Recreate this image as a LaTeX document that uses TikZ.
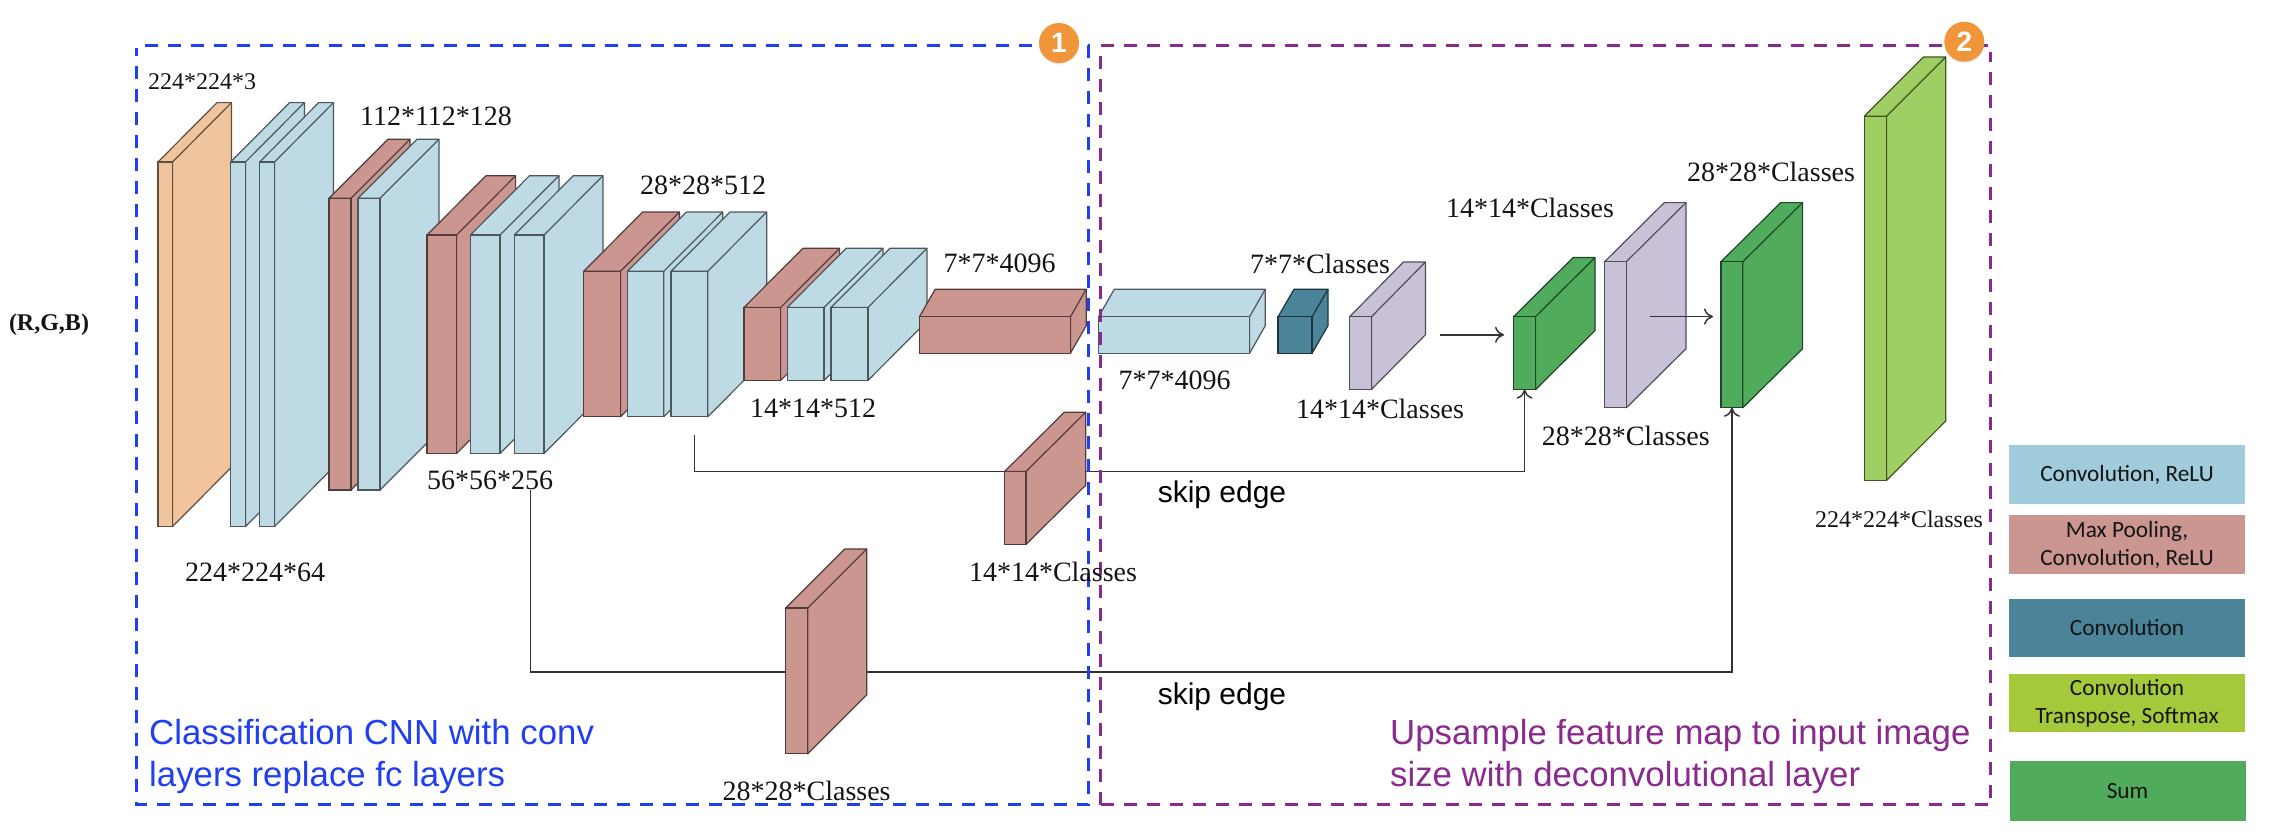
\documentclass[tikz,border=0pt]{standalone}
\usepackage{fontspec}
\setmainfont{Liberation Serif}
\newfontfamily\capfont{Liberation Sans}
\newfontfamily\legfont{Carlito}
\usetikzlibrary{arrows.meta,shadows}
\definecolor{cblue}{HTML}{BEDAE5}
\definecolor{cred}{HTML}{CC9690}
\definecolor{corange}{HTML}{F0C49C}
\definecolor{cteal}{HTML}{4B8399}
\definecolor{clilac}{HTML}{C9C1D8}
\definecolor{cgreen}{HTML}{50AC5C}
\definecolor{clime}{HTML}{9FCF62}
\definecolor{lblue}{HTML}{9FCBDB}
\definecolor{llime}{HTML}{A4C93A}
\definecolor{dashblue}{HTML}{1F3FF0}
\definecolor{dashpurple}{HTML}{8A2A8E}
\definecolor{badgecol}{HTML}{F0953A}
\tikzset{
  x=1pt,y=-1pt,
  lbl/.style={inner sep=0pt,font=\fontsize{28}{32}\selectfont,text=black!92},
  lblsm/.style={inner sep=0pt,font=\fontsize{24}{28}\selectfont,text=black!92},
  captext/.style={inner sep=0pt,anchor=base west,font=\capfont\fontsize{34.8}{40}\selectfont},
  skiplbl/.style={inner sep=0pt,font=\capfont\fontsize{30}{34}\selectfont,text=black},
  legbox/.style={draw=none,minimum width=236pt,align=center,inner sep=0pt,font=\legfont\fontsize{23.3}{28}\selectfont,text=black!92},
  conn/.style={line width=1.5pt,black!80},
  arr/.style={conn,-{To[length=9pt,width=16pt]}},
  boxdash/.style={line width=3pt,dash pattern=on 13pt off 10pt},
  bdg/.style={circle,fill=badgecol,minimum size=40pt,inner sep=0pt,text=white,font=\capfont\bfseries\fontsize{28}{30}\selectfont},
}
% name, x0, x1, top, bottom, dx, dy, fill
\newcommand{\slab}[8]{%
  \draw[fill=#8,draw=#8!40!black,line width=1.2pt,line join=round]
    (#2,#4) -- ++(#6,-#7) -- ++(#3-#2,0) -- ++(0,#5-#4) -- ++(-#6,#7) -- (#3,#4) -- cycle;
  \draw[#8!40!black,line width=1.2pt] (#3,#4) -- ++(#6,-#7);
  \node[draw=#8!40!black,fill=#8,line width=1.2pt,inner sep=0pt,outer sep=0pt,anchor=north west,minimum width=#3pt-#2pt,minimum height=#5pt-#4pt] (#1) at (#2,#4) {};
}
\begin{document}
\begin{tikzpicture}
\useasboundingbox (0,0) rectangle (2274,836);

% encoder
\slab{input}{158}{172.5}{162}{526.6}{59}{59.4}{corange}
\slab{c1}{230.6}{245.4}{162}{526.6}{59}{59.4}{cblue}
\slab{c2}{259.7}{274.5}{162}{526.6}{59}{59.4}{cblue}
\slab{p1}{329}{351}{198.2}{489.9}{59}{59}{cred}
\slab{c3}{358}{380}{198.2}{489.9}{59}{59}{cblue}
\slab{p2}{427}{456.6}{235}{453.5}{59}{59.3}{cred}
\slab{c4}{470.4}{500}{235}{453.5}{59}{59.3}{cblue}
\slab{c5}{514.3}{544}{235}{453.5}{59}{59.3}{cblue}
\slab{p3}{583.7}{620.4}{271.3}{416.8}{59}{59.3}{cred}
\slab{c6}{627.5}{663.8}{271.3}{416.8}{59}{59.3}{cblue}
\slab{c7}{671}{707.7}{271.3}{416.8}{59}{59.3}{cblue}
\slab{p4}{743.9}{780.6}{307.5}{380.5}{59}{59.2}{cred}
\slab{c8}{787.2}{824}{307.5}{380.5}{59}{59.2}{cblue}
\slab{c9}{831}{867.9}{307.5}{380.5}{59}{59.2}{cblue}
\slab{p5}{919.4}{1070.4}{316.8}{353.3}{15.8}{27.6}{cred}
\slab{c10}{1098.5}{1249.5}{316.8}{353.3}{15.8}{27.6}{cblue}
\slab{t1}{1278}{1312}{316.8}{353.3}{16}{27.6}{cteal}
\slab{l1}{1349.5}{1371.4}{316.8}{389.5}{54}{54.8}{clilac}
\slab{g1}{1513.7}{1535.5}{316.6}{389.7}{59.5}{59.1}{cgreen}
\slab{l2}{1604.6}{1626.3}{261.7}{407.8}{59.7}{59.1}{clilac}
\slab{g2}{1721}{1742.8}{261.7}{407.8}{59.7}{59.1}{cgreen}
\slab{out}{1864.3}{1886.6}{116.2}{480.3}{59.1}{59.2}{clime}

% connectors
\coordinate (skipa) at (694.4,434.7);
\coordinate (skipb) at (530.6,490);
\coordinate (skipabend) at (694.4,471.6);
\coordinate (skipbbend) at (530.6,671.8);
\draw[arr] (skipa) -- (skipabend) -| (g1.south);
\draw[arr] (skipb) -- (skipbbend) -| (g2.south);
\coordinate (a1s) at (1440,334.8);
\coordinate (a1e) at (1504,334.8);
\coordinate (a2s) at (1649.7,316.6);
\coordinate (a2e) at (1713,316.6);
\draw[arr] (a1s) -- (a1e);
\draw[arr] (a2s) -- (a2e);

% classes slabs on the skip edges
\slab{s1}{1004.6}{1026}{471.4}{544.4}{59.7}{59.2}{cred}
\slab{s2}{785.7}{807.7}{608}{753.8}{59.1}{59.1}{cred}

% dashed regions
\draw[boxdash,dashblue] (144.7,45.9) -- (1088.8,45.9) -- (1088.8,804.9) -- (136.7,804.9) -- (136.7,48);
\draw[boxdash,dashpurple] (1100.5,804.9) -- (1100.5,45.9) -- (1990.8,45.9);
\draw[boxdash,dashpurple] (1100.5,804.9) -- (1990.8,804.9) -- (1990.8,51.7);
\node[bdg,drop shadow={opacity=.15,shadow xshift=0pt,shadow yshift=-1.5pt}] (b1) at (1059,43) {1};
\node[bdg,drop shadow={opacity=.15,shadow xshift=0pt,shadow yshift=-1.5pt}] (b2) at (1964.3,41.7) {2};

% labels
\node[lblsm,font=\bfseries\fontsize{24}{28}\selectfont] (rgb) at (49,325) {(R,G,B)};
\node[lblsm] (t1a) at (202,82) {224*224*3};
\node[lbl] (t2) at (436,116.7) {112*112*128};
\node[lbl] (t3) at (703,185.6) {28*28*512};
\node[lbl] (t4) at (490,480.7) {56*56*256};
\node[lbl] (t5) at (255,572) {224*224*64};
\node[lbl] (t6) at (813,408) {14*14*512};
\node[lbl] (t7) at (999.5,262.9) {7*7*4096};
\node[lbl] (t8) at (1320,263.7) {7*7*Classes};
\node[lbl] (t9) at (1174.5,380.5) {7*7*4096};
\node[lbl] (t10) at (1380,409) {14*14*Classes};
\node[lbl] (t11) at (1053,572) {14*14*Classes};
\node[lbl] (t12) at (806.6,791) {28*28*Classes};
\node[lbl] (t13) at (1530,208.4) {14*14*Classes};
\node[lbl] (t14) at (1771,171.6) {28*28*Classes};
\node[lbl] (t15) at (1625.8,435.5) {28*28*Classes};
\node[lblsm] (t16) at (1899,519) {224*224*Classes};
\node[skiplbl] (e1) at (1222,495) {skip edge};
\node[skiplbl] (e2) at (1222,696.5) {skip edge};
\node[captext,text=dashblue] (c1a) at (149,744) {Classification CNN with conv};
\node[captext,text=dashblue] (c1b) at (149,786.6) {layers replace fc layers};
\node[captext,text=dashpurple] (c2a) at (1390,744) {Upsample feature map to input image};
\node[captext,text=dashpurple] (c2b) at (1390,786.6) {size with deconvolutional layer};

% legend
\node[legbox,fill=lblue,minimum height=59.3pt] (k1) at (2127,474.6) {Convolution, ReLU};
\node[legbox,fill=cred,minimum height=59pt] (k2) at (2127,544.5) {Max Pooling,\\Convolution, ReLU};
\node[legbox,fill=cteal,minimum height=58.4pt] (k3) at (2127,627.8) {Convolution};
\node[legbox,fill=llime,minimum height=58.6pt] (k4) at (2127,703.1) {Convolution\\Transpose, Softmax};
\node[legbox,fill=cgreen,minimum height=60pt] (k5) at (2127.5,791) {Sum};
\end{tikzpicture}
\end{document}
